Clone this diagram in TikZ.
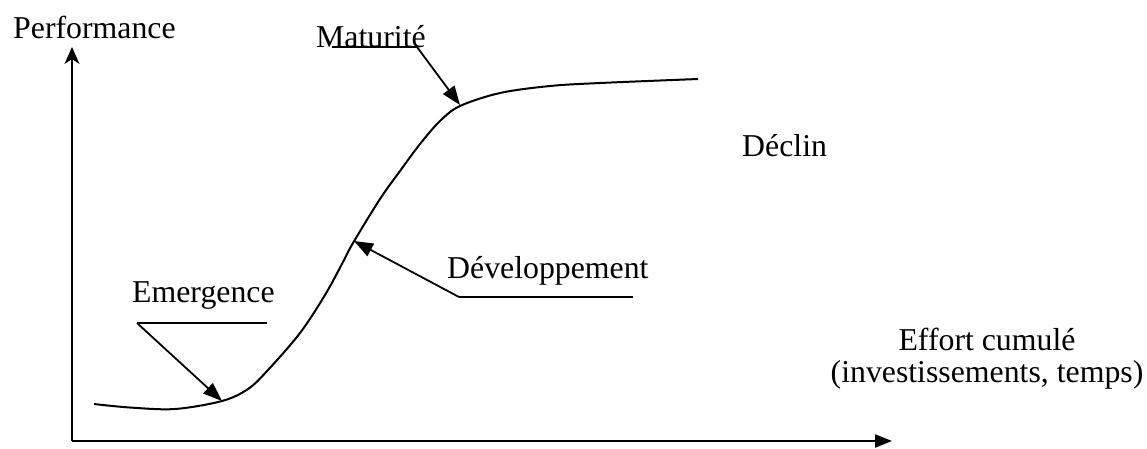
\documentclass[tikz,border=0pt]{standalone}
\usepackage{fontspec}
\setmainfont{Liberation Serif}
\usetikzlibrary{arrows.meta}
\begin{document}
\begin{tikzpicture}[x=1pt,y=-1pt,
  lbl/.style={inner sep=0pt,anchor=base west,font=\fontsize{31.8}{32}\selectfont},
  axisline/.style={line width=2pt},
  curveline/.style={line width=2pt,line join=round},
  leader/.style={line width=1.8pt},
  pointer/.style={line width=1.8pt,-{Triangle[length=19pt,width=14pt]}}]
  \useasboundingbox (0,0) rectangle (1147,448);

  % axes
  \coordinate (origin) at (72,441);
  \coordinate (ytip) at (72,47);
  \coordinate (xtip) at (892,441);
  \draw[axisline,-{Stealth[length=17pt,width=15pt,inset=5pt]}] (origin) -- (ytip);
  \draw[axisline,-{Triangle[length=17pt,width=13pt]}] (origin) -- (xtip);

  % S-curve of the technology life cycle
  \draw[curveline] plot[smooth,tension=0.55] coordinates {
    (94,404) (130,407.5) (175,409) (222,401) (248,389) (268,370)
    (300,333) (325,295) (343,262) (353,243) (380,199) (400,171)
    (420,144) (440,121) (460,106) (500,93) (550,86) (600,83) (698,79)};

  % points on the curve
  \coordinate (pEmergence) at (222,401);
  \coordinate (pDev) at (354,241);
  \coordinate (pMat) at (460,105);

  % axis labels
  \node[lbl] (perf) at (13,38) {Performance};
  \node[lbl,anchor=base] (effort1) at (987,350) {Effort cumulé};
  \node[lbl,anchor=base] (effort2) at (987,382) {(investissements, temps)};

  % phase labels with their leaders
  \node[lbl] (mat) at (316,47) {Maturité};
  \coordinate (matA) at (332,47);
  \coordinate (matB) at (417,47);
  \draw[leader] (matA) -- (matB);
  \draw[pointer] (matB) -- (pMat);

  \node[lbl] (declin) at (742,156) {Déclin};

  \node[lbl] (dev) at (447,278) {Développement};
  \coordinate (devA) at (459,297);
  \coordinate (devB) at (633,297);
  \draw[leader] (devA) -- (devB);
  \draw[pointer] (devA) -- (pDev);

  \node[lbl] (emerg) at (132,302) {Emergence};
  \coordinate (emA) at (137,323);
  \coordinate (emB) at (267,323);
  \draw[leader] (emA) -- (emB);
  \draw[pointer] (emA) -- (pEmergence);
\end{tikzpicture}
\end{document}
